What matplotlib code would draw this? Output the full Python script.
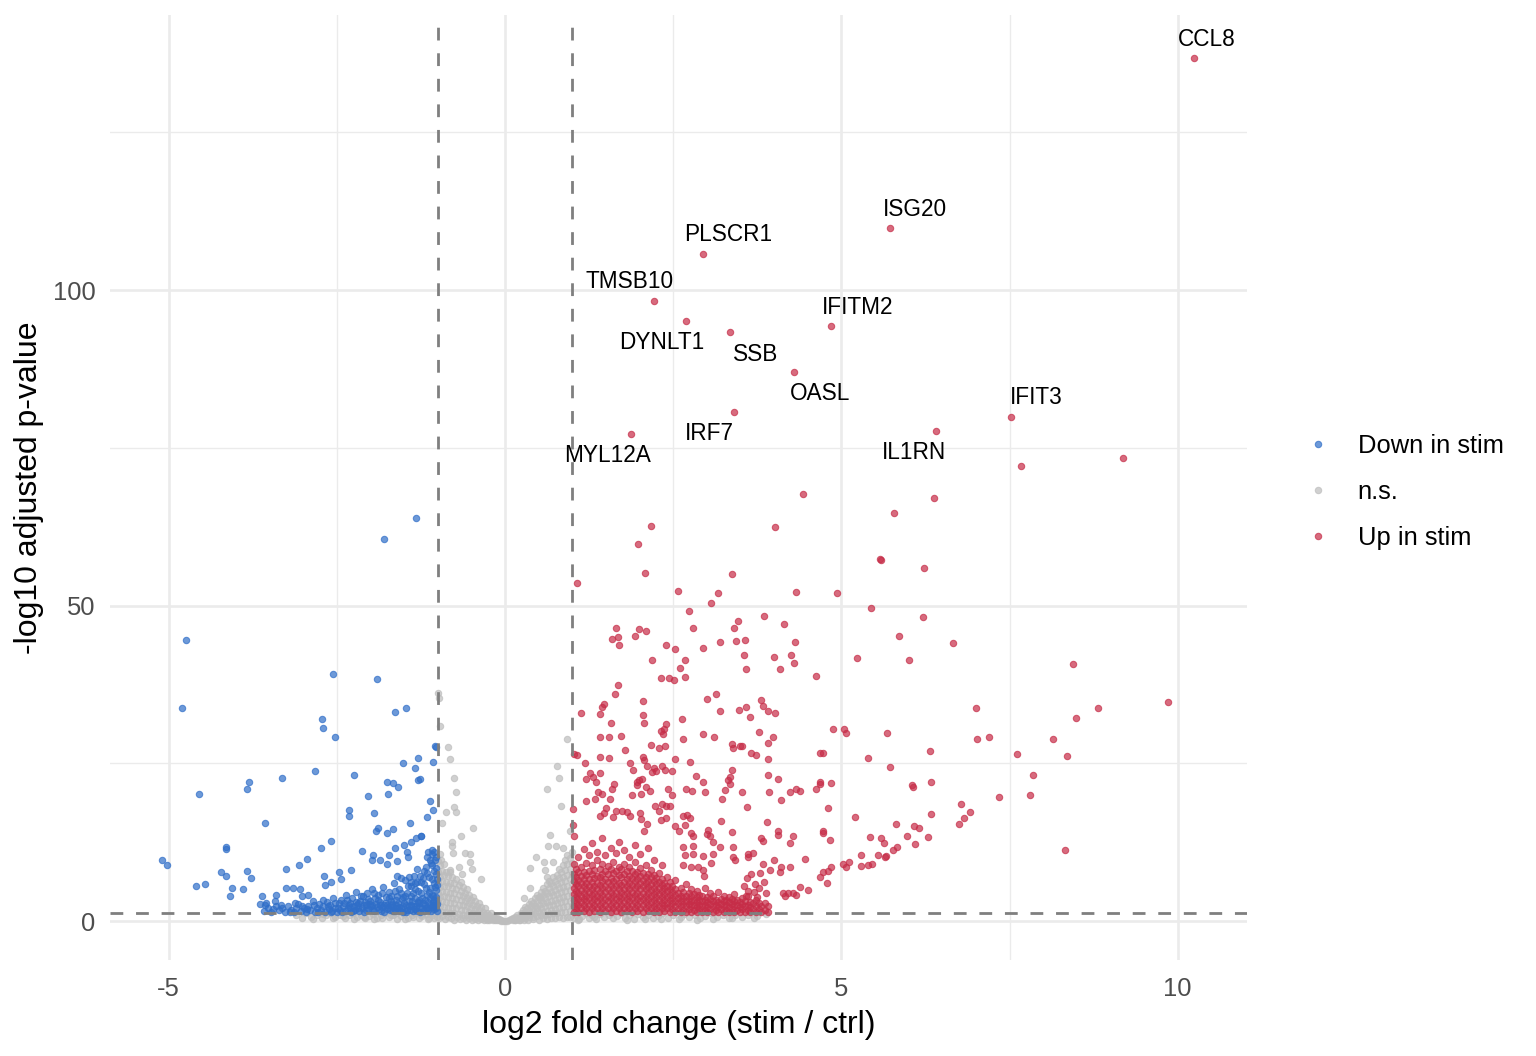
import numpy as np
import matplotlib.pyplot as plt
from matplotlib.lines import Line2D
from matplotlib.ticker import MultipleLocator

plt.rcParams['font.family'] = ['Liberation Sans', 'DejaVu Sans']
plt.rcParams['axes.unicode_minus'] = False

# labelled genes: log2 fold change, -log10 padj
genes = ["CCL8", "ISG20", "PLSCR1", "TMSB10", "DYNLT1", "SSB",
         "IFITM2", "OASL", "IRF7", "MYL12A", "IL1RN", "IFIT3"]
gene_lfc = [10.24, 5.73, 2.95, 2.21, 2.69, 3.35, 4.85, 4.30, 3.40, 1.88, 6.41, 7.52]
gene_p = [136.8, 109.8, 105.7, 98.3, 95.1, 93.3, 94.3, 87.0, 80.7, 77.2, 77.7, 79.9]
# repelled label offsets, pixels from the point
label_dx = [13, 25, 25, -24, -24, 25, 26, 26, -24, -24, -22, 25]
label_dy = [18, 19, 20, 19, -22, -22, 19, -21, -22, -22, -22, 19]

# --- up in stim -------------------------------------------------------
up_sparse = [
    (2.17, 62.6), (1.98, 59.7), (2.08, 55.2), (3.37, 55.0), (4.01, 62.4), (4.43, 67.7),
    (1.07, 53.6), (2.57, 52.3), (3.16, 52.0), (4.33, 52.2), (4.94, 52.0), (3.07, 50.4),
    (2.74, 49.1), (3.85, 48.4), (3.46, 47.6), (3.40, 46.5), (4.15, 47.0), (2.79, 46.5),
    (1.65, 46.5), (1.68, 45.0), (1.59, 44.7), (1.69, 43.7), (2.00, 46.3), (2.10, 46.0),
    (1.93, 45.1), (3.57, 44.6), (3.43, 44.4), (3.19, 44.2), (4.31, 44.3), (2.39, 43.7),
    (2.53, 43.1), (2.94, 43.2), (3.56, 42.2), (3.59, 40.0), (4.00, 41.8), (4.09, 39.9),
    (4.25, 42.1), (4.30, 40.9), (2.19, 41.3), (2.68, 41.4), (2.60, 40.1), (4.63, 38.9),
    (2.32, 38.5), (2.44, 38.5), (2.51, 38.2), (2.67, 38.6), (1.68, 37.4), (1.64, 36.0),
    (3.00, 35.2), (3.13, 36.0), (3.20, 33.3), (3.80, 35.0), (3.84, 34.1), (3.91, 33.3),
    (4.01, 33.0), (3.48, 33.4), (3.58, 33.9), (3.64, 32.3), (1.47, 34.4), (1.44, 33.9),
    (1.42, 32.8), (1.13, 33.0), (2.05, 34.9), (2.05, 32.6), (2.07, 31.4), (1.57, 31.4),
    (2.63, 32.0), (2.40, 31.3), (2.32, 30.1), (2.35, 29.6), (2.37, 30.4), (2.95, 29.7),
    (3.11, 29.1), (2.65, 28.8), (1.42, 29.2), (1.54, 29.2), (1.72, 29.3), (3.78, 29.9),
    (3.99, 29.1), (3.91, 28.2), (2.17, 27.9), (2.29, 27.5), (2.38, 27.7), (1.79, 27.1),
    (3.38, 28.0), (3.39, 27.5), (3.49, 27.8), (3.53, 27.8), (3.66, 26.7), (3.73, 26.3),
    (3.91, 25.7), (4.68, 26.6), (4.73, 26.6), (4.88, 30.4), (1.03, 26.5), (1.07, 26.3),
    (1.41, 26.0), (1.55, 25.8), (2.05, 26.0), (2.06, 25.5), (2.53, 25.7), (2.75, 25.2),
    (1.86, 25.0), (1.90, 23.9), (2.11, 24.6), (2.22, 24.2), (2.25, 23.8), (2.34, 24.6),
    (2.38, 24.0), (2.48, 23.7), (2.19, 23.6), (1.19, 25.0), (1.26, 23.4), (1.20, 22.5),
    (1.41, 23.4), (1.31, 22.8), (1.36, 22.1), (2.84, 23.0), (2.94, 22.0), (2.97, 20.5),
    (2.78, 20.6), (2.69, 20.9), (3.38, 23.9), (3.34, 22.9), (3.32, 22.3), (3.35, 21.7),
    (3.27, 20.8), (3.23, 19.4), (3.53, 20.5), (3.91, 23.1), (3.92, 20.5), (4.06, 22.5),
    (4.10, 19.2), (4.23, 20.5), (4.33, 21.0), (4.38, 20.6), (4.63, 21.0), (4.68, 22.1),
    (4.68, 21.7), (4.84, 21.8), (4.80, 17.9), (1.62, 21.7), (1.59, 21.0), (1.56, 19.3),
    (1.45, 20.2), (1.38, 20.5), (1.34, 19.4), (1.20, 19.0), (1.97, 22.0), (2.00, 22.3),
    (2.04, 22.5), (1.96, 21.6), (2.10, 21.3), (2.15, 20.6), (2.03, 20.2), (1.89, 19.9),
    (2.42, 20.9), (2.48, 19.9), (2.33, 18.5), (2.40, 18.2), (2.45, 18.3), (2.23, 18.3),
    (1.01, 17.7), (1.01, 15.2), (1.03, 13.4), (1.74, 17.5), (1.81, 17.2), (1.86, 16.7),
    (1.65, 17.4), (1.60, 16.5), (1.50, 17.9), (1.48, 17.1), (1.41, 16.6), (2.01, 17.1),
    (2.03, 16.1), (2.29, 17.5), (2.32, 16.0), (2.40, 16.3), (2.11, 15.3), (2.06, 14.2),
    (2.65, 16.6), (2.70, 16.8), (2.75, 16.4), (2.67, 15.2), (2.53, 15.1), (2.58, 14.2),
    (3.21, 15.8), (3.02, 14.5), (3.00, 13.8), (3.05, 13.4), (2.77, 13.9), (2.80, 13.4),
    (3.10, 12.6), (3.19, 11.8), (3.38, 14.1), (3.39, 11.8), (3.39, 10.2), (3.42, 9.7),
    (2.65, 11.8), (2.80, 11.9), (2.67, 10.5), (2.80, 10.6), (2.95, 10.3), (3.10, 10.6),
    (3.07, 9.2), (2.65, 8.8), (2.77, 8.6), (2.87, 8.6), (2.95, 8.1), (2.96, 7.1),
    (3.61, 10.6), (3.68, 10.8), (3.62, 10.2), (3.84, 9.1), (3.79, 7.6), (3.89, 15.7),
    (4.06, 14.3), (4.06, 13.6), (4.28, 13.4), (4.23, 12.3), (4.46, 9.9), (4.11, 8.6),
    (4.23, 8.5), (3.94, 8.1), (4.09, 7.8), (3.81, 13.1), (4.73, 14.3), (4.73, 13.9),
    (4.83, 12.8), (4.68, 7.0), (4.78, 6.0), (4.85, 8.6), (4.38, 5.4), (4.51, 4.9),
    (4.14, 4.4), (4.21, 4.4), (4.28, 4.5), (4.33, 4.1), (3.60, 18.1), (3.83, 12.7),
    (4.00, 9.6), (4.73, 7.7), (4.80, 7.9), (4.16, 3.9), (3.56, 5.5), (3.60, 6.8),
    (3.66, 7.4), (3.72, 5.9), (3.70, 4.6), (3.78, 5.2), (3.85, 6.2), (3.88, 4.4),
    (3.62, 4.8), (3.75, 3.8), (3.58, 3.9),
    # far right
    (7.67, 72.1), (9.18, 73.4), (6.38, 67.1), (5.78, 64.7), (5.58, 57.4), (5.59, 57.2),
    (6.23, 56.0), (5.44, 49.6), (6.21, 48.2), (5.86, 45.1), (6.66, 44.0), (5.23, 41.7),
    (6.00, 41.3), (8.45, 40.7), (9.85, 34.7), (7.00, 33.8), (8.82, 33.8), (8.49, 32.1),
    (5.04, 30.4), (5.07, 29.8), (5.68, 29.8), (7.01, 28.8), (7.20, 29.2), (8.14, 28.8),
    (5.40, 25.9), (6.32, 26.9), (7.61, 26.4), (8.36, 26.2), (5.72, 24.4), (6.05, 21.6),
    (6.07, 21.3), (6.34, 22.0), (7.85, 23.2), (7.80, 20.0), (7.35, 19.6), (6.78, 18.6),
    (6.91, 17.3), (6.82, 16.3), (6.75, 15.3), (6.33, 16.9), (5.21, 16.5), (5.81, 15.3),
    (6.08, 15.1), (6.16, 14.8), (5.42, 13.3), (5.59, 13.2), (5.63, 12.3), (5.97, 13.4),
    (6.09, 12.2), (6.29, 13.3), (5.29, 10.4), (5.54, 10.4), (5.65, 10.1), (5.67, 10.3),
    (5.83, 11.7), (5.77, 11.3), (5.03, 9.1), (5.07, 8.6), (5.11, 9.4), (5.29, 8.7),
    (5.40, 8.9), (5.45, 9.1), (8.33, 11.3),
]

# dense cloud just above the cutoff, read column by column
up_cols = [
    (1.02, [1.5, 2.4, 3.3, 4.3, 5.2, 6.3, 7.4, 9.1]),
    (1.05, [1.9, 2.9, 3.8, 4.8, 5.8, 6.9, 8.2]),
    (1.09, [1.5, 2.5, 3.5, 4.4, 5.5, 6.5, 7.7, 10.2]),
    (1.13, [2.0, 3.0, 3.9, 4.9, 6.0, 7.1, 8.6]),
    (1.17, [1.6, 2.6, 3.5, 4.5, 5.5, 6.6, 7.8, 11.4]),
    (1.21, [2.1, 3.1, 4.0, 5.0, 6.1, 7.3, 9.2]),
    (1.25, [1.5, 2.5, 3.6, 4.6, 5.6, 6.7, 8.0, 10.5]),
    (1.29, [2.0, 3.0, 4.1, 5.1, 6.2, 7.4, 8.8, 12.3]),
    (1.33, [1.6, 2.6, 3.5, 4.5, 5.6, 6.8, 8.1]),
    (1.37, [2.1, 3.1, 4.0, 5.0, 6.1, 7.2, 9.6, 11.0]),
    (1.41, [1.5, 2.5, 3.6, 4.6, 5.7, 6.9, 8.3]),
    (1.45, [2.0, 3.0, 4.1, 5.2, 6.3, 7.5, 9.0, 13.1]),
    (1.49, [1.6, 2.6, 3.5, 4.6, 5.6, 6.7, 8.0, 10.4]),
    (1.53, [2.1, 3.1, 4.0, 5.1, 6.2, 7.4, 8.7]),
    (1.57, [1.5, 2.5, 3.6, 4.6, 5.7, 6.8, 8.2, 11.5]),
    (1.61, [2.0, 3.0, 4.1, 5.2, 6.3, 7.6, 9.4]),
    (1.65, [1.6, 2.6, 3.5, 4.5, 5.6, 6.7, 7.9, 10.8]),
    (1.69, [2.1, 3.1, 4.0, 5.0, 6.1, 7.3, 8.6, 12.6]),
    (1.73, [1.5, 2.5, 3.6, 4.6, 5.7, 6.9, 8.2]),
    (1.77, [2.0, 3.0, 4.1, 5.1, 6.2, 7.4, 9.1, 11.2]),
    (1.81, [1.6, 2.6, 3.5, 4.5, 5.6, 6.7, 8.0]),
    (1.85, [2.1, 3.1, 4.0, 5.0, 6.1, 7.2, 8.5, 10.1]),
    (1.89, [1.5, 2.5, 3.6, 4.6, 5.7, 6.8, 7.9]),
    (1.93, [2.0, 3.0, 4.1, 5.2, 6.3, 7.4, 9.3, 12.0]),
    (1.97, [1.6, 2.6, 3.5, 4.5, 5.6, 6.6, 7.7]),
    (2.01, [2.1, 3.1, 4.0, 5.0, 6.0, 7.1, 8.4, 10.6]),
    (2.05, [1.5, 2.5, 3.5, 4.5, 5.5, 6.5, 7.6]),
    (2.09, [2.0, 3.0, 4.0, 5.0, 6.0, 7.0, 8.8]),
    (2.13, [1.6, 2.6, 3.5, 4.4, 5.4, 6.4, 7.5, 11.6]),
    (2.17, [2.1, 3.0, 3.9, 4.9, 5.9, 6.9, 8.1]),
    (2.21, [1.5, 2.4, 3.4, 4.3, 5.3, 6.3, 7.3, 9.7]),
    (2.25, [1.9, 2.9, 3.8, 4.8, 5.8, 6.8]),
    (2.29, [1.5, 2.4, 3.3, 4.3, 5.2, 6.2, 7.6]),
    (2.33, [2.0, 2.9, 3.8, 4.7, 5.7, 6.7, 8.9]),
    (2.37, [1.6, 2.5, 3.4, 4.3, 5.2, 6.1]),
    (2.41, [2.0, 2.9, 3.8, 4.7, 5.6, 7.0]),
    (2.45, [1.5, 2.4, 3.3, 4.2, 5.1, 6.2]),
    (2.49, [1.9, 2.8, 3.7, 4.6, 5.6]),
    (2.53, [1.5, 2.3, 3.2, 4.1, 5.0, 6.5]),
    (2.57, [1.9, 2.8, 3.6, 4.5]),
    (2.61, [1.5, 2.3, 3.2, 4.0, 5.2]),
    (2.65, [1.8, 2.7, 3.6, 4.6]),
    (2.69, [1.5, 2.3, 3.1, 4.0, 5.8]),
    (2.73, [1.9, 2.7, 3.5, 4.4]),
    (2.77, [1.5, 2.3, 3.1, 3.9, 5.0]),
    (2.81, [1.8, 2.6, 3.4, 4.3]),
    (2.85, [1.5, 2.2, 3.0, 3.8, 4.8]),
    (2.89, [1.9, 2.6, 3.4, 4.2]),
    (2.93, [1.5, 2.3, 3.1, 3.9]),
    (2.97, [1.8, 2.6, 3.4, 5.2]),
    (3.01, [1.5, 2.2, 3.0, 3.8]),
    (3.05, [1.9, 2.7, 3.5, 4.4]),
    (3.09, [1.5, 2.3, 3.1, 3.9]),
    (3.13, [1.8, 2.6, 3.4]),
    (3.17, [1.5, 2.2, 3.0, 4.6]),
    (3.21, [1.9, 2.7, 3.5]),
    (3.25, [1.5, 2.3, 3.1, 4.0]),
    (3.29, [1.8, 2.6, 3.4]),
    (3.33, [1.5, 2.2, 3.0, 3.8]),
    (3.37, [1.9, 2.7, 3.5]),
    (3.41, [1.5, 2.3, 3.1, 4.3]),
    (3.45, [1.8, 2.6, 3.4]),
    (3.49, [1.5, 2.2, 3.0]),
    (3.53, [1.9, 2.7, 3.6]),
    (3.57, [1.5, 2.3, 3.1]),
    (3.61, [1.8, 2.6, 4.0]),
    (3.65, [1.5, 2.2, 3.0]),
    (3.69, [1.9, 2.8]),
    (3.73, [1.5, 2.4, 3.4]),
    (3.77, [1.9, 2.8]),
    (3.81, [1.5, 2.3]),
    (3.86, [1.8, 2.9]),
    (3.91, [1.5, 2.4]),
]

# --- down in stim -----------------------------------------------------
down_sparse = [
    (-1.32, 63.8), (-1.79, 60.6), (-4.74, 44.5), (-2.55, 39.1), (-1.90, 38.4), (-4.80, 33.8),
    (-1.63, 33.1), (-1.47, 33.7), (-2.72, 32.0), (-2.70, 30.6), (-2.53, 29.1), (-1.04, 27.8),
    (-1.03, 27.6), (-1.29, 25.8), (-1.52, 25.0), (-1.34, 24.3), (-1.07, 25.2), (-1.29, 22.4),
    (-2.83, 23.8), (-3.31, 22.7), (-2.24, 23.2), (-3.81, 22.0), (-3.83, 20.9), (-4.55, 20.1),
    (-1.75, 22.0), (-1.67, 21.9), (-1.59, 21.3), (-2.04, 19.8), (-1.74, 20.1), (-1.12, 19.0),
    (-1.07, 17.6), (-1.16, 16.5), (-2.32, 17.6), (-2.32, 16.6), (-1.94, 17.1), (-1.41, 15.6),
    (-3.57, 15.5), (-1.88, 14.7), (-1.92, 14.3), (-1.76, 13.9), (-1.66, 14.6), (-2.59, 12.7),
    (-2.73, 11.6), (-4.14, 11.7), (-4.15, 11.4), (-1.32, 13.1), (-1.25, 13.4), (-1.39, 12.6),
    (-1.50, 12.0), (-1.64, 11.6), (-2.12, 11.1), (-1.96, 10.5), (-1.98, 9.7), (-1.85, 9.7),
    (-1.73, 10.4), (-1.76, 9.0), (-1.61, 9.5), (-1.46, 10.9), (-1.44, 10.2), (-5.10, 9.6),
    (-5.02, 8.8), (-2.94, 9.8), (-3.06, 8.8), (-3.25, 8.2), (-4.22, 7.7), (-4.14, 7.2),
    (-3.83, 7.9), (-3.78, 6.8), (-4.59, 5.5), (-4.46, 5.8), (-4.06, 5.2), (-4.08, 3.9),
    (-3.89, 5.1), (-3.61, 4.0), (-3.64, 2.7), (-3.57, 2.6), (-3.41, 4.1), (-3.42, 3.1),
    (-3.26, 5.3), (-3.15, 5.2), (-3.04, 5.1), (-3.02, 3.9), (-2.93, 4.2), (-2.69, 7.2),
    (-2.59, 6.2), (-2.67, 5.7), (-2.47, 7.8), (-2.44, 6.7), (-2.29, 8.1), (-1.26, 22.5),
    (-1.24, 13.5), (-1.14, 11.0), (-1.09, 11.3), (-1.16, 10.2),
]

down_dense = [
    (-3.58, 1.6), (-3.52, 2.0), (-3.47, 1.5), (-3.40, 2.4), (-3.36, 1.7), (-3.31, 2.0),
    (-3.27, 1.5), (-3.22, 2.3), (-3.18, 1.8), (-3.14, 1.5), (-3.10, 2.1), (-3.07, 2.7),
    (-3.03, 1.6), (-2.99, 2.0), (-2.96, 1.5), (-2.92, 2.4), (-2.89, 1.8), (-2.86, 3.2),
    (-2.83, 1.5), (-2.80, 2.1), (-2.77, 2.7), (-2.74, 1.7), (-2.71, 2.3), (-2.68, 1.5),
    (-2.65, 3.0), (-2.62, 1.9), (-2.60, 2.5), (-2.57, 1.6), (-2.55, 3.6), (-2.52, 2.1),
    (-2.50, 1.5), (-2.47, 2.8), (-2.45, 1.8), (-2.43, 3.3), (-2.40, 2.3), (-2.38, 1.6),
    (-2.36, 4.2), (-2.33, 2.0), (-2.31, 2.9), (-2.29, 1.5), (-2.27, 3.6), (-2.25, 2.4),
    (-2.23, 1.8), (-2.21, 4.6), (-2.19, 2.8), (-2.17, 1.6), (-2.15, 3.2), (-2.13, 2.1),
    (-2.11, 3.9), (-2.09, 1.5), (-2.07, 2.6), (-2.05, 4.4), (-2.03, 1.9), (-2.01, 3.1),
    (-1.99, 2.3), (-1.97, 5.0), (-1.95, 1.6), (-1.93, 3.6), (-1.91, 2.7), (-1.89, 4.1),
    (-1.87, 1.9), (-1.85, 3.0), (-1.83, 2.2), (-1.81, 5.4), (-1.79, 1.5), (-1.77, 3.8),
    (-1.75, 2.6), (-1.73, 4.6), (-1.71, 1.8), (-1.69, 3.2), (-1.67, 2.2), (-1.65, 6.0),
    (-1.63, 1.6), (-1.61, 4.0), (-1.59, 2.9), (-1.57, 5.1), (-1.55, 2.0), (-1.53, 3.5),
    (-1.51, 1.5), (-1.49, 6.5), (-1.47, 2.6), (-1.45, 4.4), (-1.43, 3.1), (-1.41, 1.8),
    (-1.39, 5.5), (-1.37, 2.3), (-1.35, 7.2), (-1.33, 3.7), (-1.31, 1.6), (-1.29, 4.8),
    (-1.27, 2.8), (-1.25, 6.2), (-1.23, 2.0), (-1.21, 8.0), (-1.19, 3.4), (-1.17, 5.3),
    (-1.15, 1.7), (-1.13, 7.0), (-1.11, 2.5), (-1.09, 4.2), (-1.08, 8.8), (-1.07, 3.0),
    (-1.06, 6.0), (-1.05, 1.9), (-1.04, 9.6), (-1.03, 4.9), (-1.02, 7.4), (-1.01, 2.7),
    (-1.01, 5.7),
    (-3.55, 2.8), (-3.44, 1.9), (-3.33, 2.6), (-3.20, 1.4), (-3.12, 2.9), (-3.01, 2.4),
    (-2.94, 1.9), (-2.84, 2.6), (-2.78, 1.5), (-2.70, 3.4), (-2.63, 2.3), (-2.58, 1.4),
    (-2.53, 2.9), (-2.48, 2.0), (-2.42, 1.5), (-2.39, 2.8), (-2.34, 3.3), (-2.30, 2.2),
    (-2.26, 1.6), (-2.22, 3.0), (-2.18, 2.0), (-2.14, 4.0), (-2.10, 2.5), (-2.06, 1.7),
    (-2.04, 3.5), (-2.00, 2.7), (-1.96, 1.8), (-1.94, 4.4), (-1.90, 2.2), (-1.88, 3.4),
    (-1.84, 1.6), (-1.82, 4.4), (-1.78, 2.8), (-1.76, 1.9), (-1.72, 3.6), (-1.70, 2.5),
    (-1.66, 1.6), (-1.64, 4.8), (-1.62, 3.4), (-1.58, 2.2), (-1.56, 1.6), (-1.54, 4.4),
    (-1.50, 2.9), (-1.48, 3.9), (-1.46, 1.7), (-1.44, 5.6), (-1.42, 2.3), (-1.40, 4.0),
    (-1.38, 3.2), (-1.36, 1.6), (-1.34, 5.0), (-1.32, 2.4), (-1.30, 6.2), (-1.28, 3.4),
    (-1.26, 1.5), (-1.24, 4.4), (-1.22, 2.9), (-1.20, 5.8), (-1.18, 2.1), (-1.16, 4.2),
    (-1.14, 3.0), (-1.12, 5.2), (-1.10, 1.6), (-1.09, 6.6), (-1.08, 2.2), (-1.07, 4.0),
    (-1.06, 7.9), (-1.05, 3.4), (-1.04, 5.4), (-1.03, 2.0), (-1.02, 8.4), (-1.02, 3.8),
    (-1.01, 6.6), (-1.01, 1.6),
    (-1.80, 2.5), (-1.74, 2.0), (-1.68, 2.7), (-1.60, 2.0), (-1.52, 2.4), (-1.47, 1.5),
    (-1.40, 2.6), (-1.33, 1.9), (-1.27, 2.2), (-1.21, 1.6), (-1.19, 2.6), (-1.14, 2.0),
    (-1.11, 3.6), (-1.06, 2.5), (-1.03, 3.1), (-1.13, 4.6), (-1.23, 3.6), (-1.29, 3.0),
    (-1.37, 4.4), (-1.51, 3.8), (-1.62, 2.6), (-1.70, 4.0), (-1.86, 2.6), (-1.98, 2.5),
    (-2.08, 3.0), (-2.20, 2.6), (-2.32, 2.5), (-1.10, 9.2), (-1.02, 10.2), (-1.05, 11.0),
    (-1.08, 10.6), (-1.12, 9.7), (-1.18, 8.6), (-1.16, 7.6), (-1.26, 7.2), (-1.30, 8.2),
    (-1.22, 6.8), (-1.42, 7.0), (-1.40, 6.2), (-1.55, 6.8), (-1.60, 7.2), (-1.33, 6.0),
]

# --- not significant --------------------------------------------------
ns_sparse = [
    (-0.99, 36.2), (-0.98, 35.3), (-0.96, 30.9), (-0.85, 27.6), (-0.82, 25.7), (-0.75, 22.6),
    (-0.72, 20.5), (-0.75, 18.0), (-0.72, 17.3), (-0.88, 17.3), (-0.93, 15.5), (-0.48, 14.7),
    (-0.66, 13.5), (-0.78, 12.5), (-0.79, 11.9), (-0.60, 10.7), (-0.52, 10.6), (-0.77, 10.7),
    (-0.52, 9.4), (-0.49, 8.2), (-0.35, 6.7), (-0.69, 8.6), (-0.64, 7.5), (-0.82, 8.1),
    (-0.95, 9.7), (0.92, 28.9), (0.77, 24.6), (0.80, 22.7), (0.63, 20.9), (0.84, 18.3),
    (0.97, 14.3), (0.67, 13.6), (0.64, 11.9), (0.76, 11.9), (0.87, 11.5), (0.46, 10.1),
    (0.58, 9.3), (0.37, 8.4), (0.72, 9.4), (0.59, 8.1), (0.62, 7.0), (0.37, 5.3),
    (0.28, 3.6), (0.52, 3.8),
]

ns_cols = [
    (-0.99, [1.6, 3.0, 4.5, 6.2, 7.8, 9.5]), (-0.96, [2.3, 3.8, 5.4, 7.0, 8.8, 10.6]),
    (-0.93, [1.5, 3.1, 4.7, 6.3, 8.0]), (-0.90, [2.2, 3.9, 5.6, 7.3, 9.0]),
    (-0.87, [1.4, 3.0, 4.6, 6.2, 7.8]), (-0.84, [2.1, 3.8, 5.5, 7.2]),
    (-0.81, [1.3, 2.9, 4.5, 6.1, 7.7]), (-0.78, [2.0, 3.6, 5.3, 6.9]),
    (-0.75, [1.2, 2.8, 4.4, 6.0]), (-0.72, [2.0, 3.5, 5.1, 6.6]),
    (-0.69, [1.1, 2.6, 4.2, 5.7]), (-0.66, [1.8, 3.3, 4.8, 6.2]),
    (-0.63, [1.0, 2.5, 4.0, 5.4]), (-0.60, [1.7, 3.1, 4.5]),
    (-0.57, [0.9, 2.3, 3.7, 5.0]), (-0.54, [1.5, 2.9, 4.2]),
    (-0.51, [0.8, 2.1, 3.4]), (-0.48, [1.3, 2.6, 3.8]),
    (-0.45, [0.7, 1.9, 3.1]), (-0.42, [1.2, 2.4]), (-0.39, [0.6, 1.7, 2.8]),
    (-0.36, [1.1, 2.2]), (-0.33, [0.5, 1.5]), (-0.30, [1.0, 2.0]), (-0.27, [0.4, 1.3]),
    (-0.24, [0.2, 0.9]), (-0.21, [0.3, 1.2]), (-0.18, [0.1, 0.7]), (-0.15, [0.2, 0.5]),
    (-0.12, [0.1, 0.4]), (-0.09, [0.1, 0.3]), (-0.06, [0.05, 0.2]), (-0.03, [0.05]),
    (0.00, [0.02]), (0.03, [0.05]), (0.06, [0.15]), (0.09, [0.3]), (0.12, [0.2, 0.5]),
    (0.15, [0.1, 0.7]), (0.18, [0.3, 1.0]), (0.21, [0.1, 0.7]), (0.24, [0.4, 1.3]),
    (0.27, [0.9, 1.8]), (0.30, [0.5, 1.4, 2.2]), (0.33, [1.0, 2.0]), (0.36, [0.6, 1.6, 2.7]),
    (0.39, [1.2, 2.3, 3.2]), (0.42, [0.7, 1.8, 2.9]), (0.45, [1.3, 2.4, 3.6]),
    (0.48, [0.8, 2.0, 3.2, 4.2]), (0.51, [1.4, 2.6, 3.8]), (0.54, [0.9, 2.1, 3.3, 4.6]),
    (0.57, [1.5, 2.8, 4.1, 5.3]), (0.60, [1.0, 2.3, 3.6, 4.8]), (0.63, [1.6, 3.0, 4.4, 5.8]),
    (0.66, [1.1, 2.5, 3.9, 5.3, 6.4]), (0.69, [1.8, 3.2, 4.6, 6.0]),
    (0.72, [1.2, 2.6, 4.1, 5.5, 6.9]), (0.75, [1.9, 3.4, 4.9, 6.4]),
    (0.78, [1.3, 2.8, 4.3, 5.8, 7.3]), (0.81, [2.0, 3.6, 5.2, 6.8, 8.2]),
    (0.84, [1.4, 3.0, 4.6, 6.2, 7.8]), (0.87, [2.2, 3.8, 5.4, 7.0, 8.8]),
    (0.90, [1.5, 3.1, 4.7, 6.4, 8.1, 9.6]), (0.93, [2.3, 3.9, 5.6, 7.3, 9.0, 10.4]),
    (0.96, [1.6, 3.2, 4.9, 6.6, 8.3, 10.0]), (0.99, [2.4, 4.1, 5.8, 7.5, 9.2, 11.0]),
]

# below the padj cutoff
ns_low = [
    (-3.10, 0.9), (-3.02, 0.5), (-2.95, 1.2), (-2.88, 0.7), (-2.80, 1.0), (-2.72, 0.5),
    (-2.66, 0.9), (-2.60, 1.2), (-2.52, 0.7), (-2.45, 1.0), (-2.38, 0.4), (-2.32, 0.9),
    (-2.26, 1.2), (-2.20, 0.6), (-2.14, 1.0), (-2.08, 0.4), (-2.02, 0.8), (-1.96, 1.1),
    (-1.90, 0.5), (-1.84, 0.9), (-1.78, 1.2), (-1.72, 0.6), (-1.66, 1.0), (-1.60, 0.3),
    (-1.55, 0.8), (-1.50, 1.1), (-1.44, 0.5), (-1.38, 0.9), (-1.33, 1.2), (-1.28, 0.4),
    (-1.23, 0.8), (-1.18, 1.1), (-1.13, 0.5), (-1.08, 0.9), (-1.04, 1.2), (-1.01, 0.6),
    (-2.85, 0.3), (-2.70, 1.1), (-2.55, 0.4), (-2.40, 0.8), (-2.25, 0.3), (-2.10, 0.7),
    (-1.95, 0.3), (-1.82, 0.5), (-1.70, 0.9), (-1.62, 1.2), (-1.48, 0.3), (-1.36, 0.6),
    (-1.25, 1.0), (-1.15, 0.3), (-1.06, 0.4),
    (-0.98, 0.4), (-0.94, 0.8), (-0.89, 0.3), (-0.85, 0.7), (-0.80, 0.4), (-0.76, 0.2),
    (-0.71, 0.6), (-0.67, 0.3), (-0.62, 0.5), (-0.58, 0.2), (-0.53, 0.4), (-0.49, 0.2),
    (-0.44, 0.3), (-0.40, 0.15), (-0.35, 0.3), (-0.31, 0.1), (-0.26, 0.1),
    (0.15, 0.1), (0.22, 0.1), (0.28, 0.2), (0.35, 0.15), (0.42, 0.3), (0.50, 0.2),
    (0.56, 0.4), (0.62, 0.3), (0.68, 0.5), (0.74, 0.4), (0.80, 0.6), (0.86, 0.5),
    (0.92, 0.7), (0.97, 0.6),
    (1.02, 0.5), (1.06, 1.0), (1.10, 0.3), (1.15, 0.8), (1.20, 1.2), (1.25, 0.5),
    (1.30, 0.9), (1.36, 0.3), (1.42, 1.1), (1.48, 0.6), (1.54, 1.0), (1.60, 0.4),
    (1.66, 0.8), (1.72, 1.2), (1.78, 0.5), (1.85, 0.9), (1.92, 0.3), (1.98, 1.1),
    (2.05, 0.6), (2.12, 1.0), (2.20, 0.4), (2.28, 0.8), (2.35, 1.2), (2.42, 0.5),
    (2.50, 0.9), (2.58, 0.3), (2.66, 1.1), (2.74, 0.6), (2.82, 1.0), (2.90, 0.4),
    (2.98, 0.8), (3.06, 1.2), (3.15, 0.6), (3.24, 1.0), (3.33, 0.5), (3.42, 0.9),
    (3.52, 0.7), (3.62, 1.0), (3.75, 0.8), (3.88, 1.1),
    (1.08, 0.2), (1.33, 0.6), (1.57, 1.2), (1.82, 0.2), (2.08, 0.3), (2.32, 0.3),
    (2.62, 0.7), (2.86, 0.2), (3.10, 0.3), (3.38, 0.4), (3.70, 0.5),
]


def cols_to_pts(cols):
    return [(x, y) for x, ys in cols for y in ys]


ns = np.array(ns_sparse + cols_to_pts(ns_cols) + ns_low)
down = np.array(down_sparse + down_dense)
up = np.array(up_sparse + cols_to_pts(up_cols) + list(zip(gene_lfc, gene_p)))

col_down = "#2F6EC8"
col_ns = "#BDBDBD"
col_up = "#C62D48"

fig = plt.figure(figsize=(15.36, 10.56), dpi=100)
ax = fig.add_axes([110 / 1536, 1 - 960 / 1056, 1137 / 1536, 945 / 1056])

pt_kw = dict(s=21, alpha=0.7, linewidths=0.8, zorder=2)
ax.scatter(ns[:, 0], ns[:, 1], c=col_ns, edgecolors=col_ns, **pt_kw)
ax.scatter(down[:, 0], down[:, 1], c=col_down, edgecolors=col_down, **pt_kw)
ax.scatter(up[:, 0], up[:, 1], c=col_up, edgecolors=col_up, **pt_kw)

dash = (0, (4.6, 4.6))
ax.axhline(-np.log10(0.05), color="#7F7F7F", lw=2.0, ls=dash, zorder=3)
ax.axvline(-1, color="#7F7F7F", lw=2.0, ls=dash, zorder=3)
ax.axvline(1, color="#7F7F7F", lw=2.0, ls=dash, zorder=3)

for g, x, y, dx, dy in zip(genes, gene_lfc, gene_p, label_dx, label_dy):
    ax.annotate(g, (x, y), xytext=(dx * 0.72, dy * 0.72), textcoords="offset points",
                ha="center", va="center", fontsize=16.3, color="black", zorder=4)

ax.set_xlim(-5.87, 11.03)
ax.set_ylim(-6.18, 143.6)
ax.xaxis.set_major_locator(MultipleLocator(5))
ax.xaxis.set_minor_locator(MultipleLocator(2.5))
ax.yaxis.set_major_locator(MultipleLocator(50))
ax.yaxis.set_minor_locator(MultipleLocator(25))
ax.grid(which="major", color="#EBEBEB", lw=1.9)
ax.grid(which="minor", color="#EBEBEB", lw=1.0)
ax.set_axisbelow(True)
for s in ax.spines.values():
    s.set_visible(False)
ax.tick_params(which="both", length=0, labelsize=18.4, labelcolor="#4D4D4D")
ax.tick_params(axis="x", pad=12)
ax.tick_params(axis="y", pad=10.5)

ax.set_xlabel("log2 fold change (stim / ctrl)", fontsize=23, labelpad=7)
ax.set_ylabel("-log10 adjusted p-value", fontsize=23, labelpad=6)

handles = [Line2D([], [], ls="none", marker="o", ms=4.6, mfc=c, mec=c, mew=0.8, alpha=0.7)
           for c in (col_down, col_ns, col_up)]
fig.legend(handles, ["Down in stim", "n.s.", "Up in stim"], loc="center left",
           bbox_to_anchor=(1305 / 1536, 1 - 492 / 1056), frameon=False, fontsize=18.4,
           handlelength=1.0, handletextpad=1.06, labelspacing=0.85,
           borderpad=0, borderaxespad=0)

fig.savefig("out.png", dpi=100)
